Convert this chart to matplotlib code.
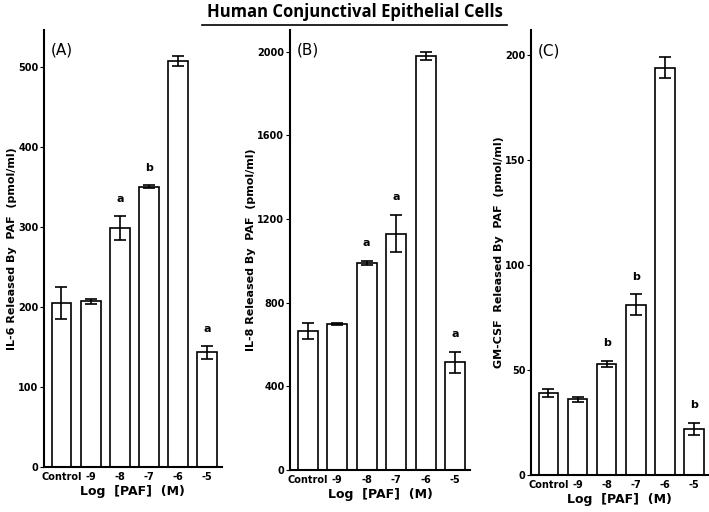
import numpy as np
import matplotlib
matplotlib.use('Agg')
import matplotlib.pyplot as plt

cats = ['Control', '-9', '-8', '-7', '-6', '-5']

il6 = [205, 207, 298, 350, 507, 143]
il6_err = [20, 3, 15, 2, 6, 8]
il6_sig = ['', '', 'a', 'b', '', 'a']

il8 = [665, 700, 990, 1130, 1980, 515]
il8_err = [40, 5, 10, 90, 20, 50]
il8_sig = ['', '', 'a', 'a', '', 'a']

gm = [39, 36, 53, 81, 194, 22]
gm_err = [2, 1, 1.5, 5, 5, 3]
gm_sig = ['', '', 'b', 'b', '', 'b']

panels = [
    ([0.062, 0.088, 0.251, 0.854], il6, il6_err, il6_sig, 546, [0, 100, 200, 300, 400, 500], '(A)',
     'IL-6 Released By  PAF  (pmol/ml)', 15),
    ([0.409, 0.082, 0.254, 0.86], il8, il8_err, il8_sig, 2105, [0, 400, 800, 1200, 1600, 2000], '(B)',
     'IL-8 Released By  PAF  (pmol/ml)', 60),
    ([0.749, 0.072, 0.25, 0.87], gm, gm_err, gm_sig, 212, [0, 50, 100, 150, 200], '(C)',
     'GM-CSF  Released By  PAF  (pmol/ml)', 6),
]

fig = plt.figure(figsize=(7.09, 5.12), dpi=100)
fig.text(0.5, 0.977, 'Human Conjunctival Epithelial Cells', ha='center', va='center',
         fontsize=12, fontweight='bold', fontfamily='Open Sans')
fig.add_artist(plt.Line2D([0.285, 0.715], [0.952, 0.952], color='black', lw=1.2))

x = np.arange(len(cats))
for rect, vals, errs, sig, ymax, ticks, lab, ylab, off in panels:
    ax = fig.add_axes(rect)
    ax.bar(x, vals, width=0.68, color='white', edgecolor='black', lw=1.2,
           yerr=errs, capsize=4, error_kw=dict(lw=1.2, capthick=1.2))
    for xi, v, e, s in zip(x, vals, errs, sig):
        if s:
            ax.text(xi, v + e + off, s, ha='center', va='bottom', fontsize=8, fontweight='bold')
    ax.set_xlim(-0.6, 5.5)
    ax.set_ylim(0, ymax)
    ax.set_yticks(ticks)
    ax.set_xticks(x)
    ax.set_xticklabels(cats, fontsize=7, fontweight='bold')
    ax.tick_params(axis='y', labelsize=7, length=3, pad=1)
    for t in ax.get_yticklabels():
        t.set_fontweight('bold')
    ax.tick_params(axis='x', length=0)
    ax.spines['top'].set_visible(False)
    ax.spines['right'].set_visible(False)
    ax.spines['left'].set_linewidth(1.5)
    ax.spines['bottom'].set_linewidth(1.5)
    ax.set_xlabel('Log  [PAF]  (M)', fontsize=9, fontweight='bold', labelpad=2)
    ax.set_ylabel(ylab, fontsize=8, fontweight='bold', labelpad=1)
    ax.text(0.04, 0.97, lab, transform=ax.transAxes, fontsize=11, va='top')

fig.savefig('out.png', dpi=100)
